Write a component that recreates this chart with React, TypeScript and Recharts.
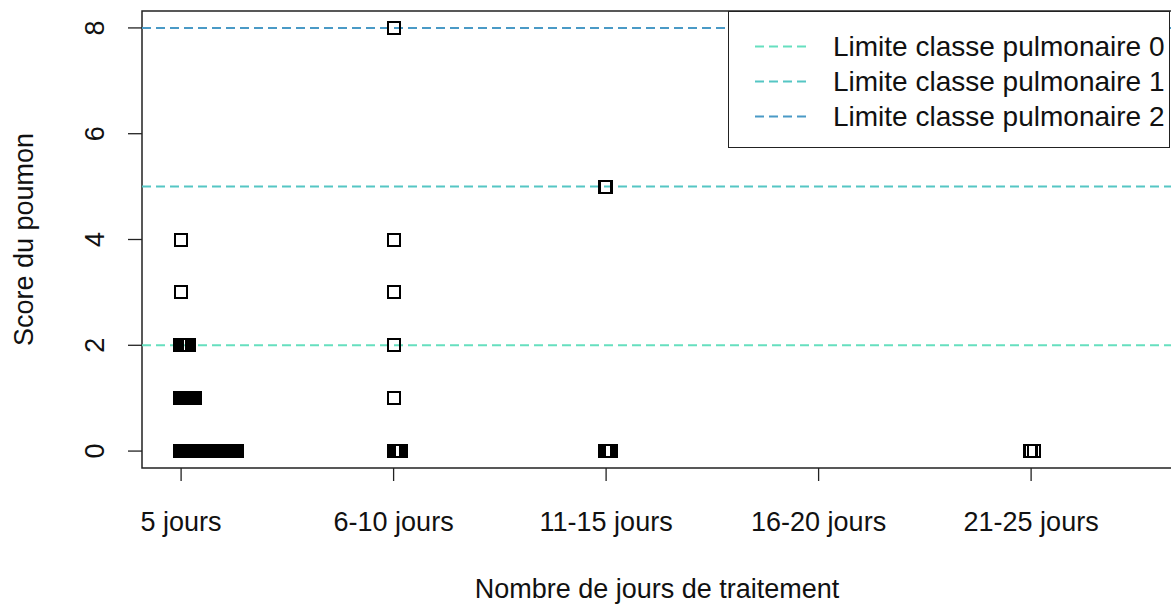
import { ScatterChart, Scatter, XAxis, YAxis, ReferenceLine, ReferenceArea, Legend } from 'recharts';

// x categories (position 1..5 on the axis)
const categories = ['5 jours', '6-10 jours', '11-15 jours', '16-20 jours', '21-25 jours'];
const xTicks = [1, 2, 3, 4, 5];
const yTicks = [0, 2, 4, 6, 8];

// jittered x positions of the points, per group and per lung score
const g1Score0 = [0.995, 1.002, 1.009, 1.016, 1.023, 1.03, 1.037, 1.044, 1.051, 1.058, 1.065, 1.072, 1.079, 1.086, 1.093, 1.1, 1.107, 1.114, 1.121, 1.128, 1.135, 1.142, 1.149, 1.156, 1.163, 1.17, 1.177, 1.184, 1.191, 1.198, 1.205, 1.212, 1.219, 1.226, 1.233, 1.24, 1.247, 1.254, 1.261];
const g1Score1 = [0.995, 1.002, 1.009, 1.016, 1.023, 1.03, 1.037, 1.044, 1.051, 1.058, 1.066];
const g1Score2 = [0.995, 1.002, 1.009, 1.016, 1.023, 1.03, 1.038];
const g1Score3 = [1.0];
const g1Score4 = [1.0];
const g2Score0 = [2.0, 2.007, 2.014, 2.021, 2.028, 2.033];
const g2Score1 = [2.0];
const g2Score2 = [2.0];
const g2Score3 = [2.0];
const g2Score4 = [2.0];
const g2Score8 = [2.0];
const g3Score0 = [2.995, 3.002, 3.009, 3.016, 3.023];
const g3Score5 = [2.995, 3.0];
const g5Score0 = [4.995, 5.0, 5.014];

// class limits
const limitLabels = ['Limite classe pulmonaire 0', 'Limite classe pulmonaire 1', 'Limite classe pulmonaire 2'];
const limitValues = [2, 5, 8];
const limitColors = ['#66dfbf', '#55c6c4', '#4a9ac6'];

const groups: Array<[number[], number]> = [
  [g1Score0, 0], [g1Score1, 1], [g1Score2, 2], [g1Score3, 3], [g1Score4, 4],
  [g2Score0, 0], [g2Score1, 1], [g2Score2, 2], [g2Score3, 3], [g2Score4, 4], [g2Score8, 8],
  [g3Score0, 0], [g3Score5, 5],
  [g5Score0, 0],
];
const points = groups.flatMap(([xs, y]) => xs.map(x => ({ x, y })));

const X_DOMAIN: [number, number] = [0.816, 5.663];
const Y_DOMAIN: [number, number] = [-0.32, 8.32];
const FONT = '"Liberation Sans", Arial, sans-serif';
const FS = 27;

const Square = (props: any) => {
  const { cx, cy } = props;
  return (
    <rect
      x={cx - 6}
      y={cy - 6}
      width={12}
      height={12}
      fill="none"
      stroke="#000"
      strokeWidth={2}
      shapeRendering="crispEdges"
    />
  );
};

const XTick = ({ x, y, payload }: any) => (
  <text x={x} y={y + 48} textAnchor="middle" fontSize={FS} fontFamily={FONT} fill="#111">
    {categories[payload.value - 1]}
  </text>
);

const YTick = ({ x, y, payload }: any) => (
  <text x={x - 22} y={y} textAnchor="middle" fontSize={FS} fontFamily={FONT} fill="#111" transform={`rotate(-90, ${x - 22}, ${y})`}>
    {payload.value}
  </text>
);

const LegendBox = () => (
  <div style={{ width: 442, height: 137, border: '1.5px solid #222', background: '#fff', boxSizing: 'border-box', paddingTop: 17 }}>
    {limitLabels.map((label, i) => (
      <div key={label} style={{ height: 35, display: 'flex', alignItems: 'center', fontFamily: FONT, fontSize: 28, color: '#111', lineHeight: '35px' }}>
        <svg width={104} height={35} style={{ flexShrink: 0 }}>
          <line x1={26} x2={80} y1={17.5} y2={17.5} stroke={limitColors[i]} strokeWidth={2} strokeDasharray="9 5" />
        </svg>
        <span>{label}</span>
      </div>
    ))}
  </div>
);

export default function App() {
  return (
    <div style={{ position: 'absolute', left: 0, top: 0, width: 1171, height: 604, overflow: 'hidden', background: '#fff' }}>
      <ScatterChart width={1175} height={604} margin={{ top: 11, right: 3, bottom: 76, left: 82 }}>
        <XAxis
          type="number"
          dataKey="x"
          domain={X_DOMAIN}
          ticks={xTicks}
          allowDataOverflow
          axisLine={false}
          tickLine={{ stroke: '#222', strokeWidth: 1.3 }}
          tickSize={13}
          tick={<XTick />}
          height={60}
          label={({ viewBox }: any) => (
            <text x={viewBox.x + viewBox.width / 2} y={598} textAnchor="middle" fontSize={FS} fontFamily={FONT} fill="#111">
              Nombre de jours de traitement
            </text>
          )}
        />
        <YAxis
          type="number"
          dataKey="y"
          domain={Y_DOMAIN}
          ticks={yTicks}
          allowDataOverflow
          axisLine={false}
          tickLine={{ stroke: '#222', strokeWidth: 1.3 }}
          tickSize={14}
          tick={<YTick />}
          width={60}
          label={({ viewBox }: any) => {
            const cy = viewBox.y + viewBox.height / 2;
            return (
              <text x={33} y={cy} textAnchor="middle" fontSize={FS} fontFamily={FONT} fill="#111" transform={`rotate(-90, 33, ${cy})`}>
                Score du poumon
              </text>
            );
          }}
        />
        <ReferenceArea x1={X_DOMAIN[0]} x2={X_DOMAIN[1]} y1={Y_DOMAIN[0]} y2={Y_DOMAIN[1]} fill="none" stroke="#222" strokeWidth={1.5} />
        {limitValues.map((v, i) => (
          <ReferenceLine key={v} y={v} stroke={limitColors[i]} strokeWidth={2} strokeDasharray="9 5" />
        ))}
        <Scatter data={points} shape={<Square />} isAnimationActive={false} />
        <Legend
          layout="horizontal"
          verticalAlign="middle"
          content={() => <LegendBox />}
          wrapperStyle={{ position: 'absolute', left: 728, top: 11, width: 442, height: 137 }}
        />
      </ScatterChart>
    </div>
  );
}
